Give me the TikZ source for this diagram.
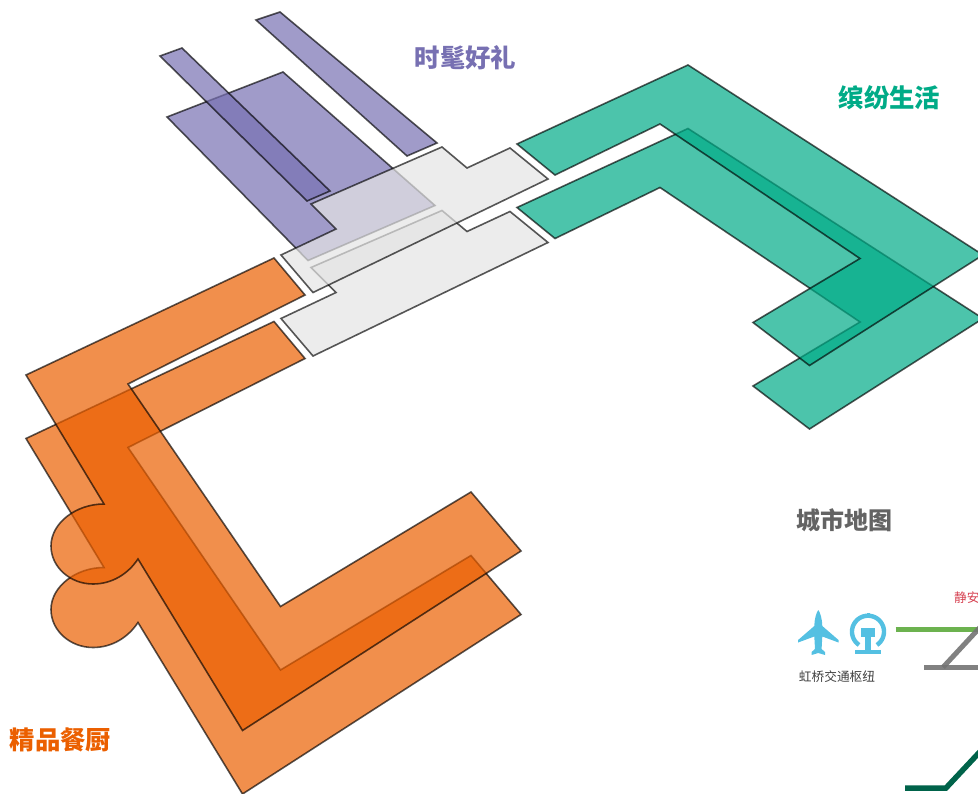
\documentclass[tikz,border=0pt]{standalone}
\usepackage{fontspec}
\setmainfont{Noto Sans CJK SC}
\definecolor{zonepurple}{RGB}{119,112,178}
\definecolor{zonegreen}{RGB}{0,171,135}
\definecolor{zoneorange}{RGB}{235,95,0}
\definecolor{zonegrey}{RGB}{228,228,228}
\definecolor{titlegrey}{RGB}{100,100,100}
\definecolor{iconblue}{RGB}{84,192,226}
\definecolor{labelred}{RGB}{214,64,80}
\definecolor{linegreen}{RGB}{108,178,79}
\definecolor{linedark}{RGB}{0,99,74}
\definecolor{linegrey}{RGB}{115,115,115}
\newcommand{\orangezone}{(26,375) -- (274,258) -- (305,295) -- (128,384) -- (280.5,606.5) -- (471,492) -- (521,551) -- (242.5,730.5) -- (138,559) .. controls (128,574) and (112,584) .. (93,584) .. controls (70,584) and (51,567) .. (51,546) .. controls (51,523) and (76,504) .. (104,504) -- cycle}
\newcommand{\greenzone}{(517,144) -- (688,65) -- (983,255) -- (809.5,365.5) -- (753,322.5) -- (860,258.5) -- (660,124) -- (555,175) -- cycle}
\newcommand{\greyzone}{(442,147) -- (467,168) -- (510,148) -- (548,179) -- (313,292.5) -- (281,255) -- (336,229) -- (311,204) -- cycle}
\tikzset{
  zone/.style={draw=black,line width=1.6pt,draw opacity=.65,fill opacity=.7,line join=miter},
  below layer/.style={shift={(0,63.5)}},
  heading/.style={font=\fontsize{25.4}{26}\selectfont\bfseries,inner sep=0pt,anchor=center},
  map heading/.style={font=\fontsize{24}{24}\selectfont\bfseries,inner sep=0pt,anchor=center},
  small label/.style={font=\fontsize{12.7}{13}\selectfont,inner sep=0pt},
  metro/.style={line width=5.5pt,line join=miter}
}
\begin{document}
\begin{tikzpicture}[x=1pt,y=-1pt]
\useasboundingbox (0,0) rectangle (978,794);
\clip (0,0) rectangle (978,794);
% purple
\draw[zone,fill=zonepurple] (167,117) -- (283,72) -- (435,205.5) -- (308,260.5) -- cycle;
\draw[zone,fill=zonepurple] (160,56) -- (182,48) -- (330,191) -- (307,201) -- cycle;
\draw[zone,fill=zonepurple] (256,20) -- (280,12) -- (437,143) -- (407,156) -- cycle;
% grey
\draw[zone,fill=zonegrey,below layer] \greyzone;
\draw[zone,fill=zonegrey] \greyzone;
% green
\draw[zone,fill=zonegreen,below layer] \greenzone;
\draw[zone,fill=zonegreen] \greenzone;
% orange
\draw[zone,fill=zoneorange,below layer] \orangezone;
\draw[zone,fill=zoneorange] \orangezone;
% headings
\node[heading,text=zonepurple] (purpletitle) at (465.5,58) {时髦好礼};
\node[heading,text=zonegreen] (greentitle) at (889.5,97.5) {缤纷生活};
\node[heading,text=zoneorange] (orangetitle) at (60.5,740) {精品餐厨};
\node[map heading,text=titlegrey] (maptitle) at (844.5,520) {城市地图};
% metro lines
\draw[metro,linegreen] (895.5,629.5) -- (985,629.5);
\draw[metro,linegrey,line width=5pt,opacity=.9] (924,667.3) -- (985,667.3);
\draw[metro,linegrey,line width=5pt,opacity=.9] (943,667.3) -- (985,622);
\draw[metro,linedark] (905,788) -- (946,788) -- (990,741);
% plane icon
\fill[iconblue] (818.3,610) .. controls (820,612) and (822.3,619) .. (822.3,626) -- (838.5,640) -- (838.5,642.5) -- (822.3,636.5) -- (821.6,649) -- (825,652) -- (825,655) -- (818.3,653) -- (811.6,655) -- (811.6,652) -- (815,649) -- (814.3,636.5) -- (798.1,642.5) -- (798.1,640) -- (814.3,626) .. controls (814.3,619) and (816.6,612) .. (818.3,610) -- cycle;
% railway icon
\draw[iconblue,line width=4.4pt] plot[domain=124:416,samples=50] ({868+16*cos(\x)},{631.7+16*sin(\x)});
\fill[iconblue] (866.5,612.5) rectangle (869.5,618);
\fill[iconblue] (861,627.5) rectangle (875,637);
\fill[iconblue] (865,637) rectangle (871,650.5);
\fill[iconblue] (855,650) rectangle (881,653.5);
% labels
\node[small label,text=black!75,anchor=center] (hub) at (837,676.5) {虹桥交通枢纽};
\node[small label,text=labelred,anchor=west] (jingan) at (954,597.5) {静安};
\end{tikzpicture}
\end{document}
